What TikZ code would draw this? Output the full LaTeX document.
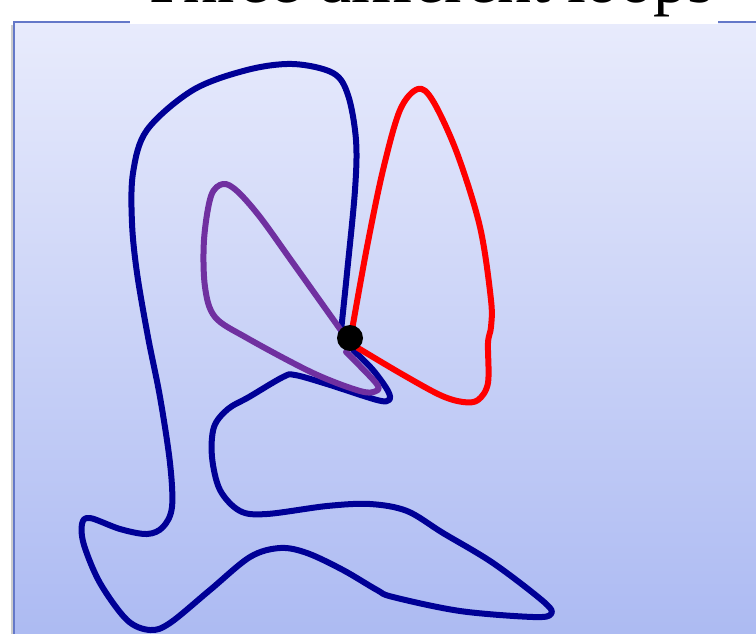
\documentclass[tikz,border=0pt]{standalone}
\usepackage{fontspec}
\setmainfont{Liberation Serif}
\definecolor{bgtop}{RGB}{232,235,252}
\definecolor{bgbot}{RGB}{172,186,242}
\definecolor{frame}{RGB}{100,120,200}
\definecolor{navy}{RGB}{0,0,150}
\definecolor{violet2}{RGB}{112,48,160}
\tikzset{
  loopline/.style={line width=6pt, line cap=round, line join=round},
}
\begin{document}
\begin{tikzpicture}[x=1pt,y=-1pt]
\useasboundingbox (0,0) rectangle (756,633);
\clip (0,0) rectangle (756,633);
% background panel
\shade[top color=bgtop, bottom color=bgbot] (14,22) rectangle (760,640);
\draw[gray!40, line width=2pt] (12,25) -- (12,640);
\draw[frame, line width=2.2pt] (14,640) -- (14,22) -- (760,22);
% title band
\fill[white] (130,-10) rectangle (718,23.5);
\node[anchor=base, inner sep=0pt, font=\fontsize{68}{72}\selectfont] (title) at (428,2) {Three different loops};
% blue loop
\draw[navy, loopline] plot[smooth, tension=0.55] coordinates {
 (341,331) (347,273) (355,190) (356,140) (348,95) (333,73) (293,64) (247,70)
 (193,90) (147,130) (133,173) (132,223) (137,273) (148,337) (160,397)
 (170,463) (172,507) (163,527) (147,534) (120,529) (90,518) (82,524)
 (84,545) (100,583) (127,620) (150,630) (170,623) (210,590) (250,557)
 (280,548) (307,553) (343,570) (377,590) (393,597) (460,611) (533,617)
 (551,614) (544,602) (493,563) (443,533) (407,511) (370,504) (327,506)
 (267,514) (240,511) (220,490) (212,457) (214,427) (228,409) (249,397)
 (283,377) (295,375) (327,384) (377,400) (389,400) (388,391) (373,370) (353,350)};
% purple loop
\draw[violet2, loopline] plot[smooth, tension=0.55] coordinates {
 (340,329) (293,263) (260,217) (237,191) (223,184) (211,196) (204,240)
 (205,287) (215,317) (247,338) (313,373) (360,391) (376,391) (376,383) (346,352)};
% red loop
\draw[red, loopline] plot[smooth, tension=0.55] coordinates {
 (352,330) (367,247) (383,170) (400,110) (418,89) (433,101) (457,153)
 (480,227) (491,300) (491,327) (488,343) (488,383) (478,400) (463,402)
 (440,395) (400,373) (358,348)};
% base point
\node[circle, fill=black, inner sep=0pt, minimum size=26pt] (base) at (350,338) {};
\end{tikzpicture}
\end{document}
